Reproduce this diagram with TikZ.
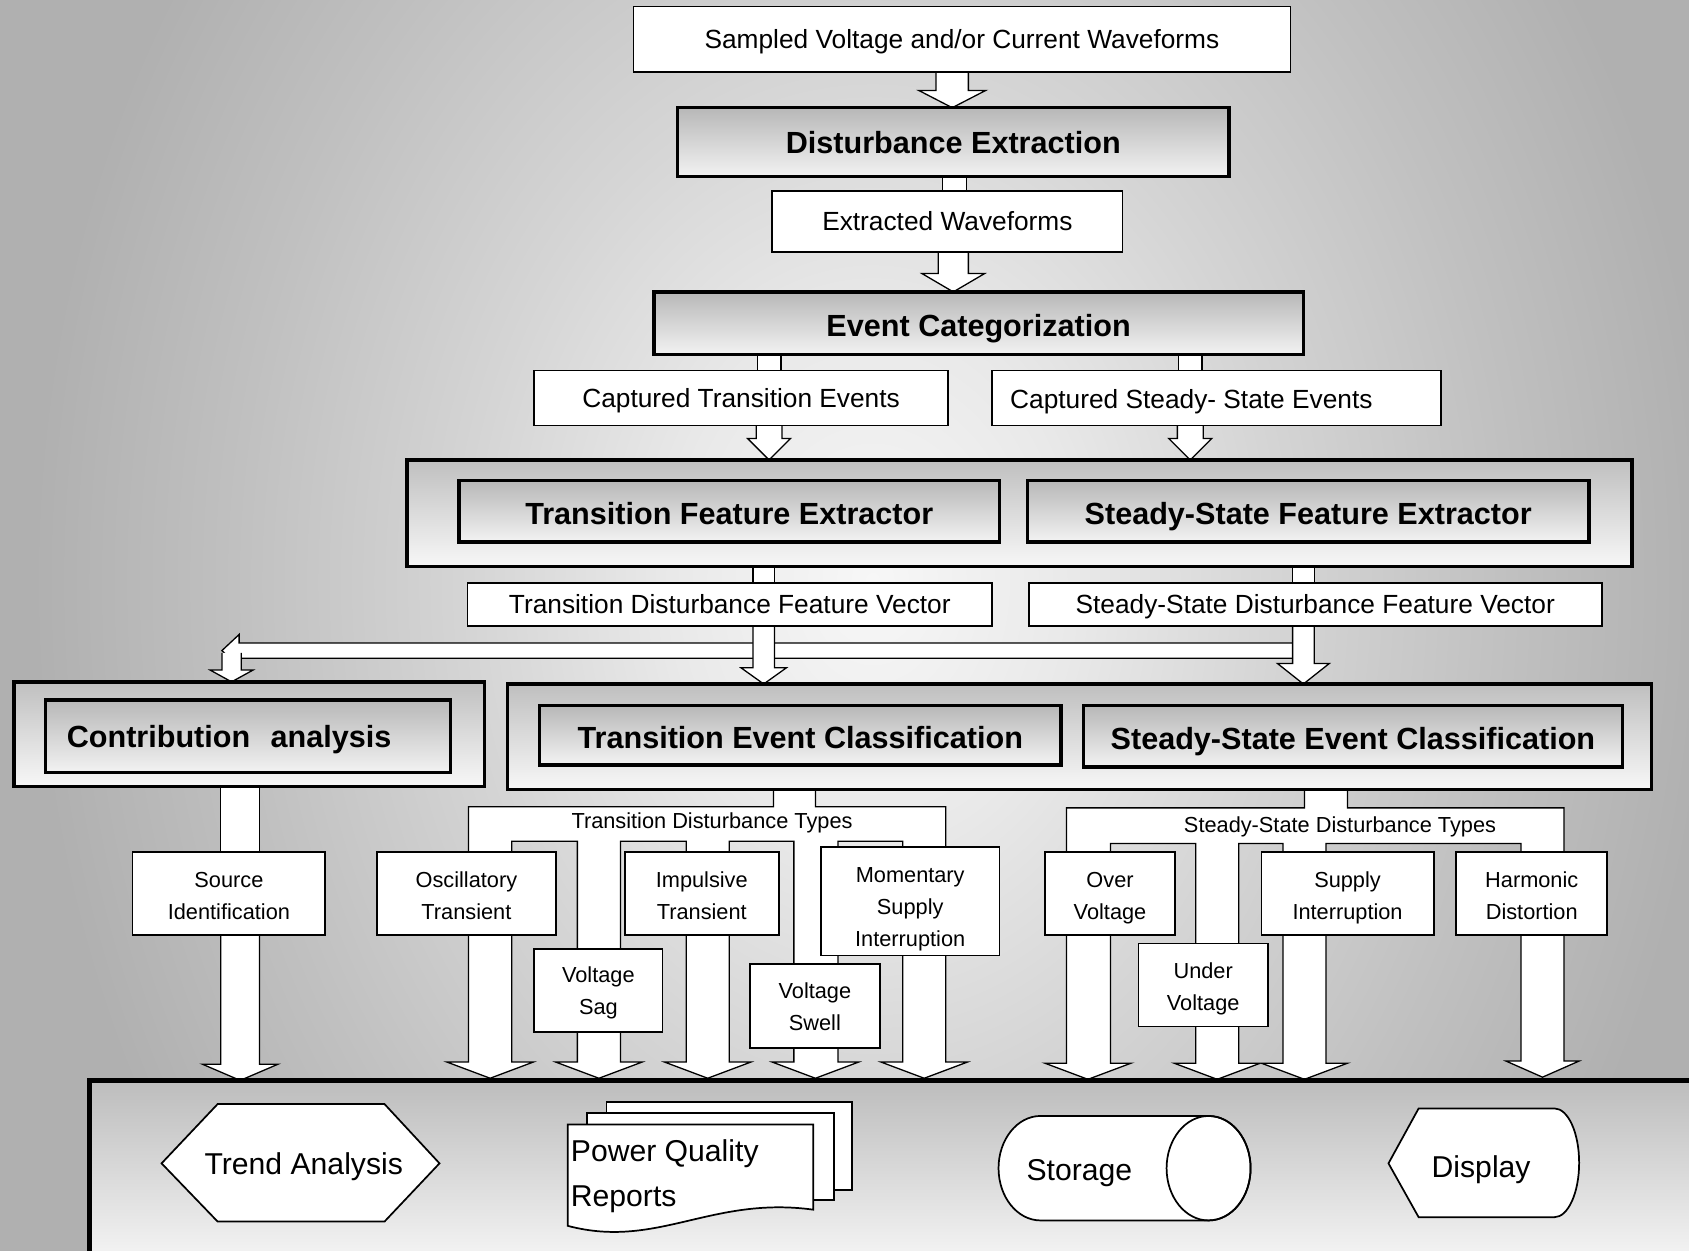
\documentclass[tikz,border=0pt]{standalone}
\usepackage{fontspec}
\setmainfont{Liberation Sans}
\usetikzlibrary{calc}

% backdrop glow colours
\definecolor{glowA}{HTML}{F7F7F7}
\definecolor{glowB}{HTML}{E9E9E9}
\definecolor{glowC}{HTML}{D5D5D5}
\definecolor{glowD}{HTML}{C0C0C0}
\definecolor{glowE}{HTML}{B0B0B0}
\pgfdeclareradialshading{bgglow}{\pgfpoint{0bp}{0bp}}{color(0bp)=(glowA); color(6bp)=(glowB); color(12bp)=(glowC); color(19bp)=(glowD); color(25bp)=(glowE); color(50bp)=(glowE)}

\pgfdeclarelayer{backdrop}
\pgfdeclarelayer{links}
\pgfsetlayers{backdrop,links,main}

% box from its corners: [style]{x1}{y1}{x2}{y2}{name}{text}
\newcommand\bx[7][]{\node[#1, minimum width={(#4-#2)*0.5pt}, minimum height={(#5-#3)*0.5pt}] (#6) at ({(#2+#4)/2},{(#3+#5)/2}) {#7};}

% stacked lines of a type box, lowered a little below the box centre
\newcommand\tlines[2][1.5pt]{\raisebox{-#1}[\height][\depth]{\begin{tabular}{@{}c@{}}#2\end{tabular}}}

% hollow block arrow pointing down: {x}{from}{to}{shaft half}{head half}{head length}
\newcommand\blockdown[6]{%
  \coordinate (ba-x) at (#1,0);
  \filldraw[blockarrow] ($(ba-x |- #2)+(-#4,0)$) -- ($(ba-x |- #3)+(-#4,-#6)$) -- ($(ba-x |- #3)+(-#5,-#6)$) -- (ba-x |- #3) -- ($(ba-x |- #3)+(#5,-#6)$) -- ($(ba-x |- #3)+(#4,-#6)$) -- ($(ba-x |- #2)+(#4,0)$);}

% short hollow stem joining two boxes: {x}{from}{to}{half width}
\newcommand\blockshaft[4]{%
  \coordinate (ba-x) at (#1,0);
  \filldraw[blockarrow] ($(ba-x |- #2)+(-#4,0)$) rectangle ($(ba-x |- #3)+(#4,0)$);}

\begin{document}
\begin{tikzpicture}[x=0.5pt,y=-0.5pt,
  every node/.style={inner sep=0pt,outer sep=0pt},
  normaltext/.style={font=\fontsize{12.2}{14}\selectfont,text height=8.8pt,text depth=0pt},
  typetext/.style={font=\fontsize{10.1}{15}\selectfont},
  plainbox/.style={draw,fill=white,line width=0.8pt,align=center},
  thinbox/.style={plainbox,normaltext},
  typebox/.style={draw,fill=white,line width=0.8pt,typetext},
  thickbox/.style={draw,line width=1.6pt,top color=black!28,bottom color=black!5,
                   font=\fontsize{14.2}{17}\selectfont\bfseries,text height=12pt,text depth=0pt},
  outerbox/.style={draw,line width=1.6pt,top color=black!25,bottom color=black!3},
  panelbox/.style={draw,line width=2pt,top color=black!26,bottom color=black!3},
  blockarrow/.style={draw,fill=white,line width=0.6pt,line join=miter},
  shapeout/.style={draw,fill=white,line width=0.8pt},
  biglabel/.style={font=\fontsize{14}{21}\selectfont},
  onelabel/.style={biglabel,text height=10pt,text depth=0pt}]

\useasboundingbox (0,0) rectangle (1568,1161);

\begin{pgfonlayer}{backdrop}
  \fill[glowE] (0,0) rectangle (1568,1161);
  \begin{scope}
    \clip (0,0) rectangle (1568,1161);
    \shade[shading=bgglow] (810,540) ellipse [x radius=780, y radius=1000];
  \end{scope}
\end{pgfonlayer}

% ---------- processing chain ----------
\bx[thinbox]{588}{6}{1198}{67}{sampled}{Sampled Voltage and/or Current Waveforms}
\bx[thickbox,text height=10.4pt]{629}{100}{1141}{164}{disturb}{Disturbance Extraction}
\bx[thinbox]{717}{177}{1042}{234}{extracted}{Extracted Waveforms}
\bx[thickbox]{607}{271}{1210}{329}{evcat}{Event Categorization}
\bx[thinbox]{496}{344}{880}{395}{capT}{Captured Transition Events}
\bx[thinbox]{921}{344}{1338}{395}{capS}{}
\node[normaltext] (capSlabel) at (1106,370) {Captured Steady- State Events};
\bx[outerbox]{378}{427}{1515}{526}{featOut}{}
\bx[thickbox]{426}{446}{928}{503}{featT}{Transition Feature Extractor}
\bx[thickbox]{954}{446}{1475}{503}{featS}{Steady-State Feature Extractor}
\bx[thinbox]{434}{541}{921}{581}{vecT}{Transition Disturbance Feature Vector}
\bx[thinbox]{955}{541}{1487}{581}{vecS}{Steady-State Disturbance Feature Vector}
\bx[outerbox]{13}{633}{450}{730}{contribOut}{}
\bx[thickbox,align=left,text width=168pt,inner xsep=10pt,text height=10pt]{42}{650}{418}{717}{contribIn}{Contribution\ \ analysis}
\bx[outerbox]{471}{635}{1533}{733}{classOut}{}
\bx[thickbox]{501}{655}{985}{710}{classT}{Transition Event Classification}
\bx[thickbox]{1006}{655}{1506}{712}{classS}{Steady-State Event Classification}

% ---------- disturbance types ----------
\node[typetext] (ttypes) at (661,764) {Transition Disturbance Types};
\node[typetext] (stypes) at (1244,768) {Steady-State Disturbance Types};
\bx[typebox]{123}{791}{302}{868}{srcid}{\tlines{Source\\Identification}}
\bx[typebox]{350}{791}{516}{868}{osc}{\tlines{Oscillatory\\Transient}}
\bx[typebox]{496}{881}{615}{958}{sag}{\tlines[0.8pt]{Voltage\\Sag}}
\bx[typebox]{580}{791}{723}{868}{imp}{\tlines{Impulsive\\Transient}}
\bx[typebox]{696}{895}{817}{973}{swell}{\tlines[0.8pt]{Voltage\\Swell}}
\bx[typebox]{762}{786}{928}{887}{mom}{\tlines[3.2pt]{Momentary\\Supply\\Interruption}}
\bx[typebox]{970}{791}{1091}{868}{over}{\tlines{Over\\Voltage}}
\bx[typebox]{1057}{876}{1177}{953}{under}{\tlines{Under\\Voltage}}
\bx[typebox]{1171}{791}{1331}{868}{supply}{\tlines{Supply\\Interruption}}
\bx[typebox]{1352}{791}{1492}{868}{harm}{\tlines{Harmonic\\Distortion}}

% ---------- output panel ----------
\node[panelbox,anchor=north west,minimum width={(1640-83)*0.5pt},minimum height=88pt] (panel) at (83,1003) {};

\draw[shapeout] (150,1080) -- (202,1025) -- (357,1025) -- (408,1080) -- (357,1134) -- (202,1134) -- cycle;
\node[onelabel] (trend) at (282,1080) {Trend Analysis};

\draw[shapeout] (563,1023) rectangle (791,1105);
\draw[shapeout] (545,1033) rectangle (774,1114);
\draw[shapeout] (527,1044) -- (755,1044) -- (755,1123) .. controls (660,1110) and (610,1160) .. (527,1138) -- cycle;
\node[biglabel,anchor=west,align=left] (reports) at (530,1092) {Power Quality\\Reports};

\draw[shapeout] (966,1036) -- (1122,1036) arc[start angle=-90,end angle=90,x radius=39,y radius=48.5]
  -- (966,1133) arc[start angle=90,end angle=270,x radius=39,y radius=48.5] -- cycle;
\draw[line width=0.8pt] (1122,1084.5) ellipse [x radius=39, y radius=48.5];
\node[onelabel] (storage) at (1002,1086) {Storage};

\draw[shapeout] (1289,1080) -- (1317,1029) -- (1443,1029) arc[start angle=-90,end angle=90,x radius=23,y radius=50.5] -- (1317,1130) -- cycle;
\node[onelabel] (display) at (1375,1083) {Display};

% ---------- block arrows ----------
\begin{pgfonlayer}{links}
  \blockdown{884}{sampled.south}{disturb.north}{15}{31}{16}
  \blockshaft{886}{disturb.south}{extracted.north}{11}
  \blockdown{885}{extracted.south}{evcat.north}{14}{29}{17}
  \blockshaft{714}{evcat.south}{capT.north}{11}
  \blockshaft{1105}{evcat.south}{capS.north}{11}
  \blockdown{714}{capT.south}{featOut.north}{12}{20}{20}
  \blockdown{1105}{capS.south}{featOut.north}{12}{20}{20}
  \blockshaft{709}{featOut.south}{vecT.north}{10}
  \blockshaft{1210}{featOut.south}{vecS.north}{10}

  % branch from the steady-state feature vector to the contribution analysis
  \coordinate (elbow) at (215,606);
  \filldraw[blockarrow] (1206,597) -- (222,597) -- (222,589) -- (206,604) -- (222,619) -- (222,611) -- (1206,611);
  \blockdown{215}{elbow}{contribOut.north}{9}{20}{11}

  \blockdown{709}{vecT.south}{classOut.north}{10}{21}{15}
  \blockdown{1210}{vecS.south}{classOut.north}{10}{24}{19}

  \blockshaft{223}{contribOut.south}{srcid.north}{18}
  \blockdown{223}{srcid.south}{panel.north}{18}{35}{15}

  % transition disturbance types
  \filldraw[blockarrow] (718,733) -- (718,749) -- (435,749) -- (435,986) -- (415,986) -- (455,1001) -- (495,986) -- (475,986) -- (475,781)
    -- (536,781) -- (536,986) -- (516,986) -- (556,1001) -- (596,986) -- (576,986) -- (576,781)
    -- (637,781) -- (637,986) -- (617,986) -- (657,1001) -- (697,986) -- (677,986) -- (677,781)
    -- (737,781) -- (737,986) -- (717,986) -- (757,1001) -- (797,986) -- (778,986) -- (778,781)
    -- (838,781) -- (838,986) -- (818,986) -- (858,1001) -- (898,986) -- (878,986) -- (878,749)
    -- (757,749) -- (757,733);

  % steady-state disturbance types
  \filldraw[blockarrow] (1211,733) -- (1211,750) -- (990,750) -- (990,987) -- (970,987) -- (1010,1002) -- (1050,987) -- (1031,987) -- (1031,783)
    -- (1110,783) -- (1110,987) -- (1090,987) -- (1130,1002) -- (1170,987) -- (1150,987) -- (1150,783)
    -- (1191,783) -- (1191,987) -- (1171,987) -- (1211,1002) -- (1251,987) -- (1231,987) -- (1231,783)
    -- (1412,783) -- (1412,985) -- (1398,985) -- (1432,1000) -- (1466,985) -- (1452,985) -- (1452,750)
    -- (1251,750) -- (1251,733);
\end{pgfonlayer}

\end{tikzpicture}
\end{document}
